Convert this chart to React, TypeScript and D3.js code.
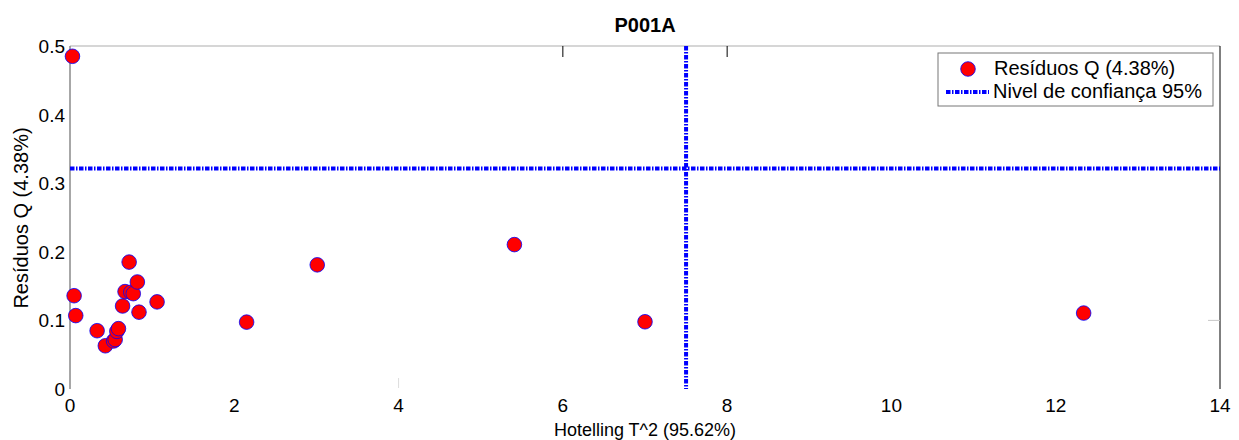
import React from "react";
import * as d3 from "d3";

const title = "P001A";
const xLabel = "Hotelling T^2 (95.62%)";
const yLabel = "Resíduos Q (4.38%)";
const legendPoints = "Resíduos Q (4.38%)";
const legendLimit = "Nivel de confiança 95%";

const t2Values = [0.03, 0.05, 0.07, 0.33, 0.43, 0.53, 0.55, 0.57, 0.59, 0.64, 0.67, 0.74, 0.77, 0.82, 0.72, 0.84, 1.06, 2.15, 3.01, 5.41, 7.0, 12.34];
const qValues = [0.485, 0.136, 0.107, 0.085, 0.063, 0.070, 0.072, 0.084, 0.088, 0.121, 0.142, 0.141, 0.139, 0.156, 0.185, 0.112, 0.127, 0.0975, 0.181, 0.2105, 0.098, 0.1107];

const t2Limit = 7.5;
const qLimit = 0.3215;

const xTicks = [0, 2, 4, 6, 8, 10, 12, 14];
const yTicks = [0, 0.1, 0.2, 0.3, 0.4, 0.5];

export default function App() {
  const W = 1239, H = 440;
  const left = 70, right = 1220, top = 46, bottom = 389;
  const x = d3.scaleLinear().domain([0, 14]).range([left, right]);
  const y = d3.scaleLinear().domain([0, 0.5]).range([bottom, top]);
  const font = "'Liberation Sans', Arial, sans-serif";
  const dash = "4.5,1.5,1.5,1.5";
  const pts = t2Values.map((v, i) => ({ x: v, y: qValues[i] }));
  return (
    <svg width={W} height={H} style={{ position: "absolute", left: 0, top: 0 }} fontFamily={font}>
      <rect width={W} height={H} fill="#fff" />
      {/* axes */}
      <line x1={left} x2={right} y1={top} y2={top} stroke="#c8c8c8" strokeWidth={1.5} />
      <line x1={left} x2={left} y1={top} y2={bottom} stroke="#8a8a8a" strokeWidth={1.5} />
      <line x1={right} x2={right} y1={top} y2={bottom} stroke="#000" strokeWidth={1} />
      {/* odd tick remnants */}
      <line x1={right} x2={right - 12} y1={y(0.1)} y2={y(0.1)} stroke="#c8c8c8" strokeWidth={1} />
      {[6, 8].map((t) => (
        <line key={"tt" + t} x1={x(t)} x2={x(t)} y1={top} y2={top + 11} stroke="#000" strokeWidth={1} />
      ))}
      <line x1={x(4)} x2={x(4)} y1={bottom - 1} y2={bottom - 11} stroke="#ddd" strokeWidth={1} />
      {/* tick labels */}
      {xTicks.map((t) => (
        <text key={"x" + t} x={x(t)} y={bottom + 23} fontSize={19} textAnchor="middle" fill="#000">{t}</text>
      ))}
      {yTicks.map((t) => (
        <text key={"y" + t} x={left - 5} y={y(t) + 7} fontSize={19} textAnchor="end" fill="#000">{t}</text>
      ))}
      {/* limits */}
      <line x1={left} x2={right} y1={y(qLimit)} y2={y(qLimit)} stroke="#0000ff" strokeWidth={4} strokeDasharray={dash} />
      <line x1={x(t2Limit)} x2={x(t2Limit)} y1={top} y2={bottom} stroke="#0000ff" strokeWidth={4} strokeDasharray={dash} />
      {/* points */}
      {pts.map((p, i) => (
        <circle key={i} cx={x(p.x)} cy={y(p.y)} r={7.3} fill="#ff0000" stroke="#0000ff" strokeWidth={0.8} />
      ))}
      {/* titles */}
      <text x={(left + right) / 2} y={32} fontSize={20} fontWeight="bold" textAnchor="middle">{title}</text>
      <text x={(left + right) / 2} y={436} fontSize={18} textAnchor="middle">{xLabel}</text>
      <text transform={`translate(28,218) rotate(-90)`} fontSize={20} textAnchor="middle">{yLabel}</text>
      {/* legend */}
      <rect x={938} y={53} width={275} height={53} fill="#fff" stroke="#777" strokeWidth={1} />
      <circle cx={968} cy={69} r={7.3} fill="#ff0000" stroke="#0000ff" strokeWidth={0.8} />
      <text x={994} y={75} fontSize={20}>{legendPoints}</text>
      <line x1={946} x2={989} y1={92} y2={92} stroke="#0000ff" strokeWidth={4} strokeDasharray={dash} />
      <text x={993} y={98} fontSize={20}>{legendLimit}</text>
    </svg>
  );
}
